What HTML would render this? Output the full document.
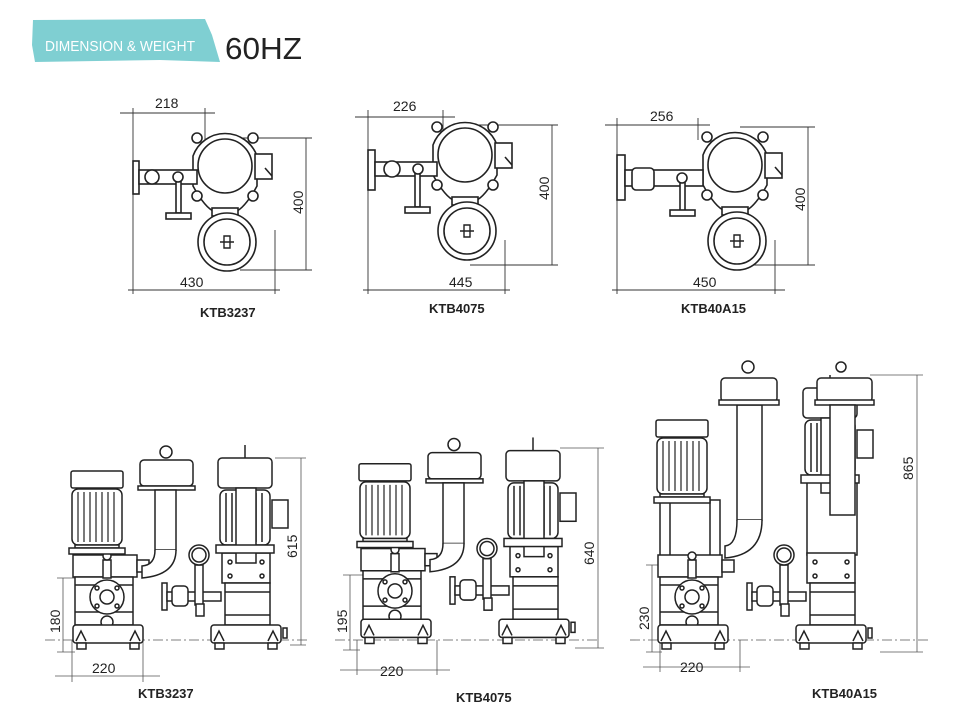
<!DOCTYPE html>
<html><head><meta charset="utf-8"><style>
body{margin:0;background:#fff;width:967px;height:724px;overflow:hidden}
svg{display:block}
text{font-family:"Liberation Sans",sans-serif;fill:#222}
</style></head><body>
<svg width="967" height="724" viewBox="0 0 967 724" xmlns="http://www.w3.org/2000/svg">
<defs>
<g id="topv" fill="#fff" stroke="#222" stroke-width="1.6">
 <path d="M-32,-10 A34,34 0 0 1 32,-10 L32,20 Q20,42 10,46 L-10,46 Q-20,42 -32,20Z"/>
 <circle cx="-28" cy="-28" r="5"/><circle cx="28" cy="-28" r="5"/><circle cx="-28" cy="30" r="5"/><circle cx="28" cy="30" r="5"/>
 <circle cx="0" cy="0" r="27"/>
 <rect x="30" y="-12" width="17" height="25"/>
 <rect x="-13" y="42" width="26" height="8"/>
 <circle cx="2" cy="76" r="29"/><circle cx="2" cy="76" r="23"/>
 <path d="M-1,70 L5,70 L5,82 L-1,82Z M-5,76 L9,76" stroke-width="1.4"/>
 <line x1="40" y1="2" x2="47" y2="10"/>
</g>
<g id="motor" fill="#fff" stroke="#222" stroke-width="1.5">
 <rect x="0" y="0" width="52" height="17" rx="2"/>
 <rect x="1" y="18" width="50" height="56" rx="6"/>
 <path d="M7,21V71M13,21V71M19,21V71M25,21V71M31,21V71M37,21V71M43,21V71" stroke-width="1.2"/>
 <rect x="4" y="74" width="44" height="3"/>
 <rect x="-2" y="77" width="56" height="6"/>
</g>
<g id="base" fill="#fff" stroke="#222" stroke-width="1.5">
 <rect x="0" y="0" width="70" height="18" rx="3"/>
 <rect x="4" y="18" width="9" height="6"/><rect x="57" y="18" width="9" height="6"/>
 <path d="M3,16 L8,6 L13,16 M57,16 L62,6 L67,16" fill="none"/>
</g>
<g id="lower" fill="#fff" stroke="#222" stroke-width="1.5">
 <rect x="73" y="555" width="64" height="22"/>
 <rect x="137" y="560" width="12" height="12"/>
 <rect x="75" y="577" width="58" height="48"/>
 <path d="M75,585H133M75,612H133" />
 <circle cx="107" cy="597" r="17"/><circle cx="107" cy="597" r="7"/>
 <circle cx="97" cy="588" r="2"/><circle cx="117" cy="588" r="2"/><circle cx="97" cy="606" r="2"/><circle cx="117" cy="606" r="2"/>
 <circle cx="107" cy="622" r="6"/>
 <rect x="103" y="560" width="8" height="18"/><circle cx="107" cy="556" r="4"/>
 <use href="#base" x="73" y="625"/>
 <rect x="222" y="553" width="48" height="30"/>
 <circle cx="230" cy="562" r="2"/><circle cx="262" cy="562" r="2"/><circle cx="230" cy="576" r="2"/><circle cx="262" cy="576" r="2"/>
 <rect x="225" y="583" width="45" height="42"/>
 <path d="M225,592H270M225,615H270"/>
 <rect x="162" y="583" width="5" height="27"/>
 <rect x="167" y="592" width="54" height="9"/>
 <rect x="172" y="586" width="16" height="20" rx="4"/>
 <rect x="195" y="565" width="8" height="40"/>
 <circle cx="199" cy="555" r="10"/><circle cx="199" cy="555" r="7"/>
 <rect x="196" y="604" width="8" height="12"/>
 <use href="#base" x="211" y="625"/>
 <rect x="283" y="628" width="4" height="10"/>
</g>
<g id="motorL"><use href="#motor" x="71" y="471"/></g>
<g id="motorR" fill="#fff" stroke="#222" stroke-width="1.5">
 <rect x="218" y="458" width="54" height="30" rx="4"/>
 <line x1="245" y1="445" x2="245" y2="458"/>
 <rect x="220" y="490" width="50" height="55" rx="6"/>
 <path d="M226,493V542M232,493V542M238,493V542M256,493V542M262,493V542"/>
 <rect x="236" y="488" width="20" height="75"/>
 <rect x="272" y="500" width="16" height="28"/>
 <rect x="216" y="545" width="58" height="8"/>
</g>
<g id="sil" fill="#fff" stroke="#222" stroke-width="1.5">
 <circle cx="166" cy="452" r="6" fill="none"/>
 <rect x="140" y="460" width="53" height="26" rx="4"/>
 <rect x="138" y="486" width="57" height="4"/>
 <rect x="155" y="490" width="21" height="60"/>
 <path d="M155,550 Q155,565 142,566 L142,578 Q176,575 176,550" />
</g>
<g id="side1"><use href="#lower"/><use href="#motorL"/><use href="#motorR"/><use href="#sil"/></g>
</defs>

<!-- header -->
<path d="M33,20 L205,19 L212,35 L220,62 L160,60 L35,62 L32,45Z" fill="#7fcfd2"/>
<text x="45" y="51" font-size="15" fill="#fff" style="fill:#fff" textLength="150" lengthAdjust="spacingAndGlyphs">DIMENSION &amp; WEIGHT</text>
<text x="225" y="59" font-size="31" textLength="77" lengthAdjust="spacingAndGlyphs">60HZ</text>

<!-- top views -->
<g stroke="#333" stroke-width="0.9" fill="none">
 <path d="M133,108V294 M205,108V140 M120,113H215 M275,230V294 M128,290H280 M240,138H312 M240,270H312 M306,138V270"/>
 <path d="M368,110V294 M443,110V135 M355,117H455 M505,240V294 M363,290H510 M470,125H558 M470,265H558 M552,125V265"/>
 <path d="M617,118V294 M698,118V140 M605,125H710 M775,240V294 M612,290H785 M740,127H815 M740,265H815 M808,127V265"/>
</g>
<use href="#topv" transform="translate(225,166)"/>
<g fill="#fff" stroke="#222" stroke-width="1.6">
 <rect x="133" y="161" width="6" height="33"/><rect x="139" y="170" width="58" height="14"/><circle cx="152" cy="177" r="7"/>
 <rect x="176" y="180" width="5" height="33"/><rect x="166" y="213" width="25" height="6"/><circle cx="178" cy="177" r="5"/>
</g>
<use href="#topv" transform="translate(465,155)"/>
<g fill="#fff" stroke="#222" stroke-width="1.6">
 <rect x="368" y="150" width="7" height="40"/><rect x="375" y="162" width="62" height="14"/><circle cx="392" cy="169" r="8"/>
 <rect x="415" y="172" width="5" height="35"/><rect x="405" y="207" width="25" height="6"/><circle cx="418" cy="169" r="5"/>
</g>
<use href="#topv" transform="translate(735,165)"/>
<g fill="#fff" stroke="#222" stroke-width="1.6">
 <rect x="617" y="155" width="8" height="45"/><rect x="625" y="170" width="78" height="16"/><rect x="632" y="168" width="22" height="22" rx="4"/>
 <rect x="680" y="182" width="5" height="30"/><rect x="670" y="210" width="25" height="6"/><circle cx="682" cy="178" r="5"/>
</g>
<g font-size="14">
 <text x="155" y="108">218</text><text x="393" y="111">226</text><text x="650" y="121">256</text>
 <text x="180" y="287">430</text><text x="449" y="287">445</text><text x="693" y="287">450</text>
 <text transform="translate(303,214) rotate(-90)">400</text>
 <text transform="translate(549,200) rotate(-90)">400</text>
 <text transform="translate(805,211) rotate(-90)">400</text>
 <text x="200" y="317" font-weight="bold" font-size="13">KTB3237</text>
 <text x="429" y="313" font-weight="bold" font-size="13">KTB4075</text>
 <text x="681" y="313" font-weight="bold" font-size="13">KTB40A15</text>
</g>

<!-- bottom side views -->
<g stroke="#555" stroke-width="0.8" fill="none">
 <path d="M45,640H310" stroke-dasharray="10,3,2,3"/>
 <path d="M275,458H306 M290,645H306 M301,458V645 M57,578H80 M63,578V652 M57,652H75 M72,640V682 M143,640V682 M55,676H160"/>
 <path d="M335,640H600" stroke-dasharray="10,3,2,3"/>
 <path d="M560,448H604 M575,648H604 M598,448V648 M343,575H365 M350,575V650 M343,650H360 M357,640V675 M437,640V675 M340,670H450"/>
 <path d="M630,640H930" stroke-dasharray="10,3,2,3"/>
 <path d="M870,375H923 M880,652H923 M917,375V652 M646,565H668 M652,565V652 M646,652H662 M660,640V672 M740,640V672 M643,667H750"/>
</g>
<use href="#side1"/>
<use href="#side1" transform="translate(288,-12) scale(1,1.01)"/>
<!-- group 3 -->
<g fill="#fff" stroke="#222" stroke-width="1.5">
 <rect x="660" y="500" width="60" height="58"/>
 <path d="M670,500V555M710,500V555"/>
 <rect x="807" y="480" width="50" height="75"/>
</g>
<use href="#lower" transform="translate(585,0)"/>
<use href="#motorL" transform="translate(585,-51)"/>
<use href="#motorR" transform="translate(585,-70)"/>
<g fill="#fff" stroke="#222" stroke-width="1.5">
 <rect x="737" y="405" width="25" height="115"/>
 <path d="M737,520 Q737,545 725,546 L725,558 Q762,555 762,520"/>
 <rect x="721" y="378" width="56" height="24" rx="4"/><rect x="719" y="400" width="60" height="5"/>
 <circle cx="748" cy="367" r="6" fill="none"/>
 <rect x="817" y="378" width="55" height="24" rx="4"/><rect x="815" y="400" width="59" height="5"/>
 <circle cx="841" cy="367" r="5" fill="none"/>
 <rect x="830" y="405" width="25" height="110"/>
</g>
<g font-size="14">
 <text transform="translate(297,558) rotate(-90)">615</text>
 <text transform="translate(60,633) rotate(-90)">180</text>
 <text x="92" y="673">220</text>
 <text transform="translate(594,565) rotate(-90)">640</text>
 <text transform="translate(347,633) rotate(-90)">195</text>
 <text x="380" y="676">220</text>
 <text transform="translate(913,480) rotate(-90)">865</text>
 <text transform="translate(649,630) rotate(-90)">230</text>
 <text x="680" y="672">220</text>
 <text x="138" y="698" font-weight="bold" font-size="13">KTB3237</text>
 <text x="456" y="702" font-weight="bold" font-size="13">KTB4075</text>
 <text x="812" y="698" font-weight="bold" font-size="13">KTB40A15</text>
</g>
</svg>
</body></html>
